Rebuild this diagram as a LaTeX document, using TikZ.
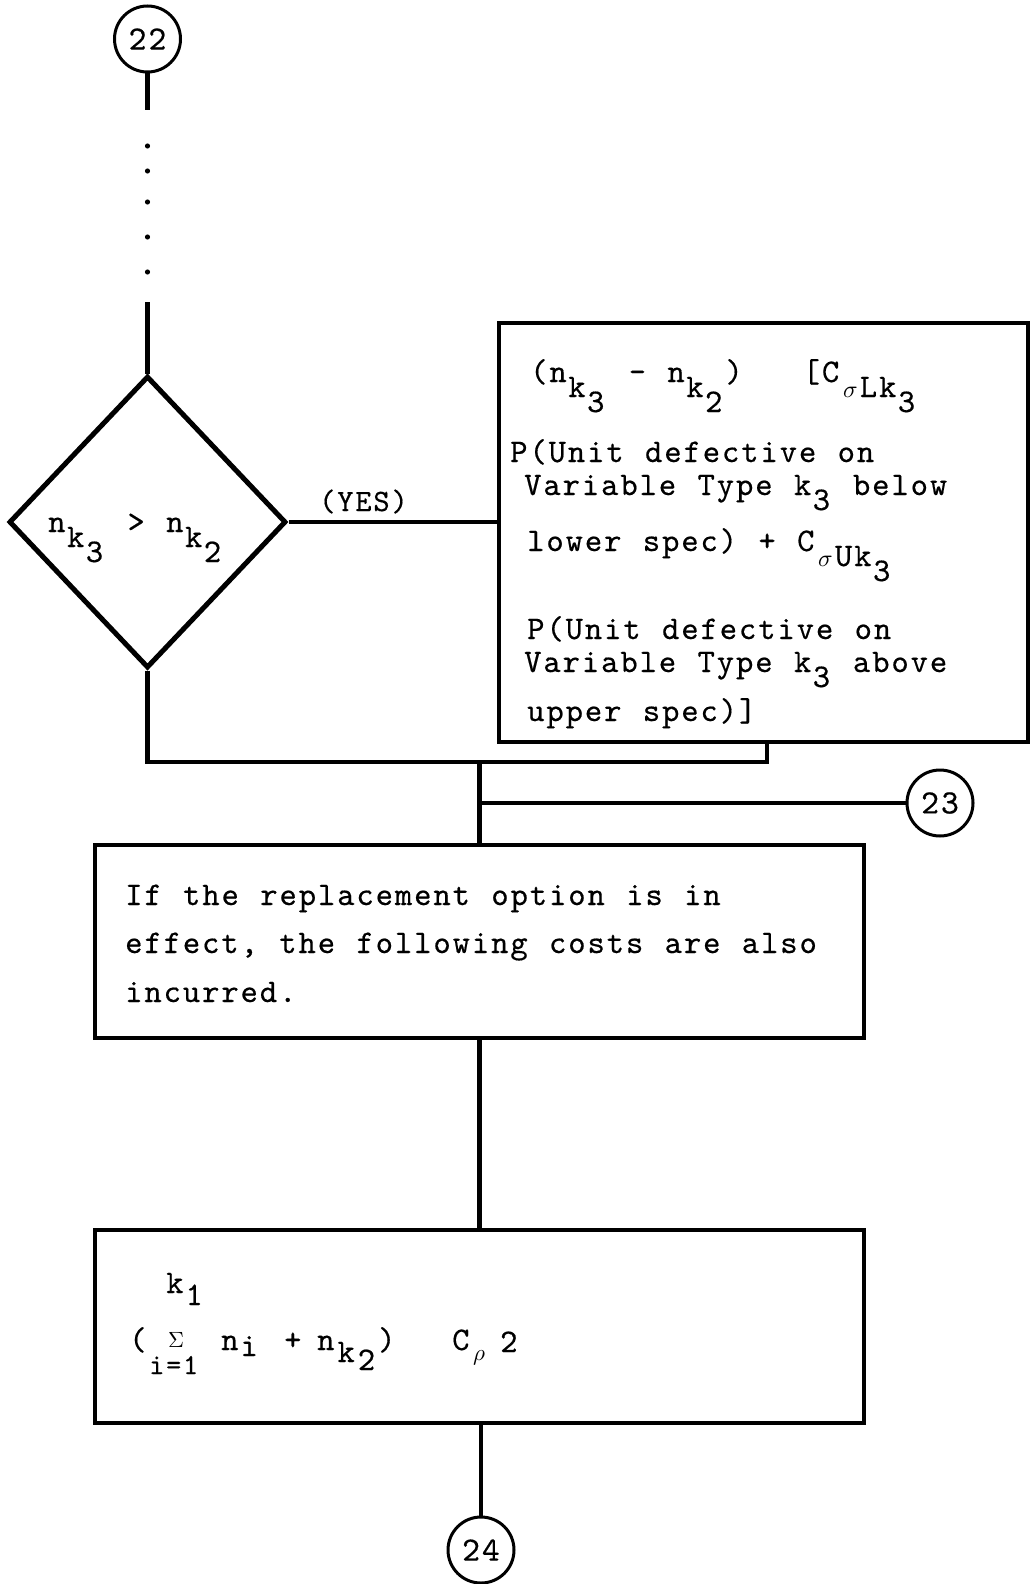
\documentclass[tikz,border=0pt]{standalone}
\usepackage{graphicx}
\usepackage{fontspec}
\usetikzlibrary{shapes.geometric}
\newfontfamily\tw{lmmono10-regular.otf}[LetterSpace=5.8, WordSpace=1.11, FakeBold=0.4]
\newcommand\lo[1]{\hspace{1.5pt}\raisebox{-15pt}{#1}\hspace{1.5pt}}
\newcommand\mysig{\makebox[19pt][c]{\scalebox{2.4}{\fontsize{10}{12}\selectfont$\sigma$}}}
\newcommand\myrho{\scalebox{2.3}{\fontsize{10}{12}\selectfont$\rho$}}
\newcommand\mySig{\scalebox{2.2}{\fontsize{10}{12}\selectfont$\Sigma$}}
\begin{document}
\begin{tikzpicture}[x=1pt,y=-1pt,
  boxst/.style={draw, rectangle, line width=4pt, inner sep=0pt},
  diast/.style={draw, diamond, line width=5pt, inner sep=0pt, minimum width=277pt, minimum height=292pt},
  circst/.style={draw, circle, line width=3pt, inner sep=0pt, minimum size=66pt, font=\tw\fontsize{34}{34}\selectfont},
  conn/.style={line width=4.5pt},
  txt/.style={anchor=base west, inner sep=0pt, font=\tw\fontsize{33}{33}\selectfont},
]
\useasboundingbox (0,0) rectangle (1033,1584);
\fill[white] (0,0) rectangle (1033,1584);

% shapes
\node[circst] (c22) at (147.5,39) {22};
\node[diast] (dia) at (147.5,522) {};
\node[boxst, minimum width=529pt, minimum height=419pt] (b1) at (763.5,532.5) {};
\node[circst] (c23) at (940,803) {23};
\node[boxst, minimum width=769pt, minimum height=193pt] (b2) at (479.5,941.5) {};
\node[boxst, minimum width=769pt, minimum height=193pt] (b3) at (479.5,1326.5) {};
\node[circst] (c24) at (481,1550) {24};

% connectors
\coordinate (d1) at (147.5,110);
\coordinate (d2) at (147.5,302);
\draw[conn] (c22.south) -- (d1);
\foreach \yy in {146,171,202,237,272} \fill (147.5,\yy) circle (2.6pt);
\draw[conn] (d2) -- (dia.north);
\draw[conn] (dia.east) -- (dia.east -| b1.west);
\node[txt, font=\tw\fontsize{31}{31}\selectfont] (yes) at (319,511) {(YES)};
\coordinate (j1) at (767,762);
\draw[conn] (dia.south) |- (j1) -- (j1 |- b1.south);
\draw[conn] (b2.north |- j1) -- (b2.north);
\draw[conn] (b2.north |- c23.west) -- (c23.west);
\draw[conn] (b2.south) -- (b3.north);
\draw[conn] (c24.north |- b3.south) -- (c24.north);

% diamond text
\node[txt] (dtext) at (48,532) {n\lo{k\lo{3}} > n\lo{k\lo{2}}};

% box 1 text
\node[txt] (l1) at (530,382) {(n\lo{k\lo{3}} - n\lo{k\lo{2}})\hspace{60pt}[C\lo{\mysig Lk\lo{3}}};
\node[txt, text depth=0pt] (l2) at (510,462) {P(Unit defective on};
\node[txt] (l3) at (524,495) {Variable Type k\lo{3} below};
\node[txt] (l4) at (527,551) {lower spec) + C\lo{\mysig Uk\lo{3}}};
\node[txt, text depth=0pt] (l5) at (527,639) {P(Unit defective on};
\node[txt] (l6) at (524,672) {Variable Type k\lo{3} above};
\node[txt] (l7) at (527,721) {upper spec)]};

% box 2 text
\node[txt] (m1) at (125,905) {If the replacement option is in};
\node[txt] (m2) at (125,953) {effect, the following costs are also};
\node[txt] (m3) at (125,1002) {incurred.};

% box 3 text
\node[txt] (s1) at (166,1293) {k\hspace{2pt}\raisebox{-12pt}{1}};
\node[txt] (s2) at (129,1350) {(};
\node[inner sep=0pt] (s3) at (176,1340) {\mySig};
\node[txt, font=\tw\fontsize{29}{29}\selectfont] (s4) at (149,1374) {i=1};
\node[txt] (s5) at (221,1350) {n\hspace{2pt}\raisebox{-6pt}{i}};
\node[txt] (s6) at (284,1350) {+};
\node[txt] (s7) at (317,1350) {n\hspace{3pt}\raisebox{-12pt}{k\hspace{3pt}\raisebox{-8pt}{2}}\hspace{3pt})};
\node[txt] (s8) at (452,1350) {C};
\node[inner sep=0pt, anchor=base west] (s9) at (473,1360) {\myrho};
\node[txt] (s10) at (500,1352) {2};
\end{tikzpicture}
\end{document}
